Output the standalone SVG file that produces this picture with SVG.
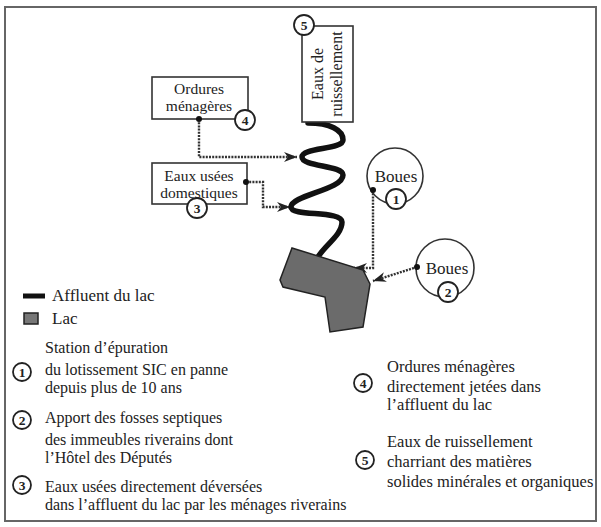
<svg xmlns="http://www.w3.org/2000/svg" width="601" height="527" viewBox="0 0 601 527">
<defs>
<style>
text{font-family:'Liberation Serif','Times New Roman',serif;fill:#222;font-size:16px}
.box{fill:#fff;stroke:#333;stroke-width:1.6}
.num{fill:#fff;stroke:#222;stroke-width:1.8}
.numt{font-size:13.5px;font-weight:bold;text-anchor:middle}
.lbl{font-size:15.5px;text-anchor:middle}
.r{font-size:16.5px}
.conn{fill:none;stroke:#333;stroke-width:2.4;stroke-dasharray:2 1.2}
.dot{fill:#111}
</style>
<marker id="arr" markerUnits="userSpaceOnUse" markerWidth="14" markerHeight="10" refX="13" refY="5" orient="auto">
<path d="M0,0 L13,5 L0,10 L4,5 z" fill="#222"/>
</marker>
</defs>
<rect x="0" y="0" width="601" height="527" fill="#fff"/>
<rect x="5" y="7" width="591" height="514" fill="#fff" stroke="#666" stroke-width="2"/>

<g id="connectors">
<path class="conn" d="M199,119 V157 H297" marker-end="url(#arr)"/>
<path class="conn" d="M246,182 H263 V207 H290" marker-end="url(#arr)"/>
<path class="conn" d="M373,190 V268 H354" marker-end="url(#arr)"/>
<path class="conn" d="M417,267 L373,281" marker-end="url(#arr)"/>
</g>

<g id="affluent">
<path d="M308,123 C330,123 343,130 343,140 C343,150 302,147 302,157 C302,167 343,165 343,175 C343,190 291,195 291,207 C291,217 342,210 342,222 C342,235 325,245 318,257" fill="none" stroke="#111" stroke-width="5.5" stroke-linecap="round"/>
</g>

<g id="lac">
<polygon points="292,248 363,270 370,284 363,327 330,332 325,297 283,287 280,280" fill="#6b6b6b" stroke="#222" stroke-width="1.5"/>
</g>

<g id="n5">
<rect class="box" x="302" y="26" width="51" height="96"/>
<text class="lbl" style="font-size:16px" transform="translate(323,74) rotate(-90)">Eaux de</text>
<text class="lbl" style="font-size:16px" transform="translate(342,74) rotate(-90)">ruissellement</text>
<circle class="num" cx="304" cy="25" r="10"/>
<text class="numt" x="304" y="30">5</text>
</g>

<g id="n4">
<rect class="box" x="152" y="77" width="96" height="42"/>
<text class="lbl" x="199" y="94">Ordures</text>
<text class="lbl" x="199" y="111">ménagères</text>
<circle class="num" cx="245" cy="120" r="10"/>
<text class="numt" x="245" y="125">4</text>
<circle class="dot" cx="199" cy="119" r="3"/>
</g>

<g id="n3">
<rect class="box" x="152" y="163" width="95" height="41"/>
<text class="lbl" x="199" y="181">Eaux usées</text>
<text class="lbl" x="199" y="198">domestiques</text>
<circle class="num" cx="197" cy="208" r="10"/>
<text class="numt" x="197" y="213">3</text>
<circle class="dot" cx="246" cy="182" r="3"/>
</g>

<g id="n1">
<circle class="box" cx="395" cy="176" r="28"/>
<text class="lbl" style="font-size:17px" x="396" y="182">Boues</text>
<circle class="num" cx="396" cy="199" r="10"/>
<text class="numt" x="396" y="204">1</text>
<circle class="dot" cx="373" cy="190" r="3"/>
</g>

<g id="n2">
<circle class="box" cx="445" cy="268" r="29"/>
<text class="lbl" style="font-size:17px" x="447" y="274">Boues</text>
<circle class="num" cx="448" cy="292" r="10"/>
<text class="numt" x="448" y="297">2</text>
<circle class="dot" cx="417" cy="267" r="3"/>
</g>

<g id="legend">
<line x1="23" y1="296" x2="45" y2="296" stroke="#111" stroke-width="5"/>
<text x="52" y="301" style="font-size:17px">Affluent du lac</text>
<rect x="24" y="313" width="14" height="11" fill="#777" stroke="#222" stroke-width="1.5"/>
<text x="52" y="324" style="font-size:17px">Lac</text>

<circle class="num" cx="22" cy="372" r="9" stroke-width="1.6"/>
<text class="numt" x="22" y="377">1</text>
<text x="45" y="353">Station d’épuration</text>
<text x="45" y="375">du lotissement SIC en panne</text>
<text x="45" y="393">depuis plus de 10 ans</text>

<circle class="num" cx="22" cy="420" r="9" stroke-width="1.6"/>
<text class="numt" x="22" y="425">2</text>
<text x="45" y="423">Apport des fosses septiques</text>
<text x="45" y="445">des immeubles riverains dont</text>
<text x="45" y="463">l’Hôtel des Députés</text>

<circle class="num" cx="22" cy="485" r="9" stroke-width="1.6"/>
<text class="numt" x="22" y="490">3</text>
<text x="45" y="492">Eaux usées directement déversées</text>
<text x="45" y="510">dans l’affluent du lac par les ménages riverains</text>

<circle class="num" cx="363" cy="383" r="9" stroke-width="1.6"/>
<text class="numt" x="363" y="388">4</text>
<text class="r" x="387" y="372">Ordures ménagères</text>
<text class="r" x="387" y="392">directement jetées dans</text>
<text class="r" x="387" y="410">l’affluent du lac</text>

<circle class="num" cx="365" cy="460" r="9" stroke-width="1.6"/>
<text class="numt" x="365" y="465">5</text>
<text class="r" x="387" y="447">Eaux de ruissellement</text>
<text class="r" x="387" y="467">charriant des matières</text>
<text class="r" x="387" y="487">solides minérales et organiques</text>
</g>
</svg>
